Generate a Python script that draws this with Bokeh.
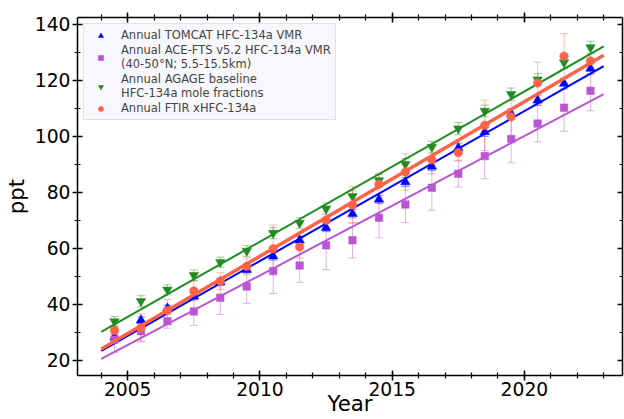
import math
from bokeh.plotting import figure
from bokeh.models import (ColumnDataSource, Whisker, TeeHead, LinearAxis,
                          SingleIntervalTicker, Range1d, Legend, LegendItem,
                          CustomJSTickFormatter, CDSView, IndexFilter)
from bokeh.embed import file_html
from bokeh.resources import INLINE

# ---------------- data ----------------
years = [2004.5, 2005.5, 2006.5, 2007.5, 2008.5, 2009.5, 2010.5, 2011.5, 2012.5,
         2013.5, 2014.5, 2015.5, 2016.5, 2017.5, 2018.5, 2019.5, 2020.5, 2021.5, 2022.5]

tomcat = [28.2, 34.2, 38.5, 42.8, 47.9, 52.3, 57.1, 62.8, 67.3, 72.3,
          77.4, 83.6, 89.2, 95.8, 101.5, 108.0, 112.8, 118.8, 124.2]
tomcat_err = [1.0, 1.2, 1.1, 1.2, 1.3, 1.2, 1.4, 1.3, 1.4, 1.5,
              1.5, 1.6, 1.5, 1.7, 1.6, 1.8, 1.8, 1.9, 1.9]

ace = [27.3, 30.3, 33.9, 37.4, 42.3, 46.3, 51.8, 53.8, 61.0, 62.8,
       70.9, 75.6, 81.6, 86.6, 92.9, 99.0, 104.5, 110.2, 116.2]
ace_err = [4.5, 3.5, 2.5, 5.0, 6.0, 6.0, 8.0, 6.0, 8.7, 6.3,
           7.2, 6.5, 8.1, 4.8, 8.1, 8.5, 6.5, 8.4, 7.1]

agage = [33.8, 41.0, 45.1, 50.3, 55.0, 59.0, 65.4, 69.0, 74.1, 78.5,
         84.2, 90.0, 96.1, 102.7, 109.0, 115.0, 120.2, 126.3, 131.7]
agage_err = [1.8, 2.0, 1.8, 1.9, 1.8, 1.9, 2.0, 1.9, 2.0, 2.0,
             2.1, 2.0, 2.1, 2.2, 2.1, 2.2, 2.2, 2.3, 2.2]

ftir = [30.6, 31.5, 37.7, 44.7, 48.2, 53.5, 59.8, 60.4, 70.0, 75.4,
        82.8, 87.2, 91.6, 94.1, 103.9, 106.9, 119.0, 128.6, 126.9]
ftir_err = [2.0, 5.0, 4.0, 3.5, 3.0, 3.0, 8.5, 4.0, 3.0, 6.5,
            4.0, 6.5, 5.0, 3.0, 9.0, 8.0, 7.5, 8.0, 5.0]

trend_years = [2004, 2023]
tomcat_trend = [23.3, 125.0]
ace_trend = [20.4, 115.0]
agage_trend = [30.1, 132.1]
ftir_trend = [24.0, 128.9]

labels = ["Annual TOMCAT HFC-134a VMR",
          "Annual ACE-FTS v5.2 HFC-134a VMR\n(40-50\u00b0N; 5.5-15.5km)",
          "Annual AGAGE baseline\nHFC-134a mole fractions",
          "Annual FTIR xHFC-134a"]

x_ticks_interval = 5
y_ticks_interval = 20

FONT = "DejaVu Sans"

# ---------------- figure ----------------
p = figure(width=624, height=419,
           x_range=Range1d(2003.1, 2023.71), y_range=Range1d(14.5, 142.4),
           output_backend="svg", toolbar_location=None,
           min_border_left=74, min_border_right=2, min_border_top=17,
           min_border_bottom=44)
p.grid.visible = False
p.outline_line_color = None
p.background_fill_color = "white"

series = [
    (tomcat, tomcat_err, tomcat_trend, "blue", "triangle", 9.5, 2.0),
    (ace, ace_err, ace_trend, "mediumorchid", "square", 7.5, 2.0),
    (agage, agage_err, agage_trend, "forestgreen", "inverted_triangle", 9.5, 2.0),
    (ftir, ftir_err, ftir_trend, "tomato", "circle", 8.5, 3.5),
]

items = []
for (vals, errs, trend, color, marker, msize, lw), lab in zip(series, labels):
    src = ColumnDataSource(dict(
        x=years, y=vals,
        upper=[v + e for v, e in zip(vals, errs)],
        lower=[v - e for v, e in zip(vals, errs)]))
    w = Whisker(source=src, base="x", upper="upper", lower="lower",
                dimension="height", line_color=color, line_alpha=0.45, line_width=1,
                upper_head=TeeHead(size=8, line_color=color, line_alpha=0.45, line_width=1),
                lower_head=TeeHead(size=8, line_color=color, line_alpha=0.45, line_width=1))
    p.add_layout(w)
    sc = p.scatter("x", "y", source=src, marker=marker, size=msize,
                   fill_color=color, line_color=color, line_width=0.5)
    p.line(trend_years, trend, line_color=color, line_width=lw)
    # legend-only vertical error-bar glyph (filtered out of the plot area)
    eb = p.scatter("x", "y", source=src, view=CDSView(filter=IndexFilter([])),
                   marker="dash", angle=math.pi / 2, size=15,
                   line_color=color, line_alpha=0.5, line_width=1.2)
    items.append(LegendItem(label=lab, renderers=[eb, sc], index=0))

# ---------------- axes ----------------
def style(ax, ticker, show_labels=True):
    ax.ticker = ticker
    ax.axis_line_color = "black"
    ax.axis_line_width = 1.5
    ax.major_tick_line_color = "black"
    ax.major_tick_line_width = 1.5
    ax.minor_tick_line_color = "black"
    ax.minor_tick_line_width = 1.2
    ax.major_tick_in = 5
    ax.major_tick_out = 5
    ax.minor_tick_in = 3
    ax.minor_tick_out = 3
    ax.major_label_text_font = FONT
    ax.major_label_text_color = "black"
    if show_labels:
        ax.major_label_text_font_size = "18.7px"
        ax.major_label_standoff = 1
    else:
        ax.formatter = CustomJSTickFormatter(code="return ''")
        ax.major_label_text_font_size = "1px"
        ax.major_label_standoff = 0

xa = p.xaxis[0]
ya = p.yaxis[0]
style(xa, SingleIntervalTicker(interval=x_ticks_interval, num_minor_ticks=5))
style(ya, SingleIntervalTicker(interval=y_ticks_interval, num_minor_ticks=2))
ya.major_label_standoff = 2
xa.axis_label = "Year"
ya.axis_label = "ppt"
for ax in (xa, ya):
    ax.axis_label_text_font = FONT
    ax.axis_label_text_font_size = "21.3px"
    ax.axis_label_text_font_style = "normal"
    ax.axis_label_text_color = "black"
xa.axis_label_standoff = -8
ya.axis_label_standoff = 3

top = LinearAxis()
style(top, SingleIntervalTicker(interval=x_ticks_interval, num_minor_ticks=5), False)
p.add_layout(top, "above")
right = LinearAxis()
style(right, SingleIntervalTicker(interval=y_ticks_interval, num_minor_ticks=2), False)
right.major_tick_out = 0
right.minor_tick_out = 0
p.add_layout(right, "right")

legend = Legend(items=items, location="top_left", margin=6, padding=4, spacing=1,
                glyph_width=25, glyph_height=13, label_standoff=8,
                label_text_font=FONT, label_text_font_size="11.5px",
                label_text_line_height=1.08, label_height=12,
                background_fill_color="#f8f8fc", background_fill_alpha=1.0,
                border_line_color="#cccccc", border_line_width=1)
p.add_layout(legend)

open("out.html", "w").write(file_html(p, INLINE))
